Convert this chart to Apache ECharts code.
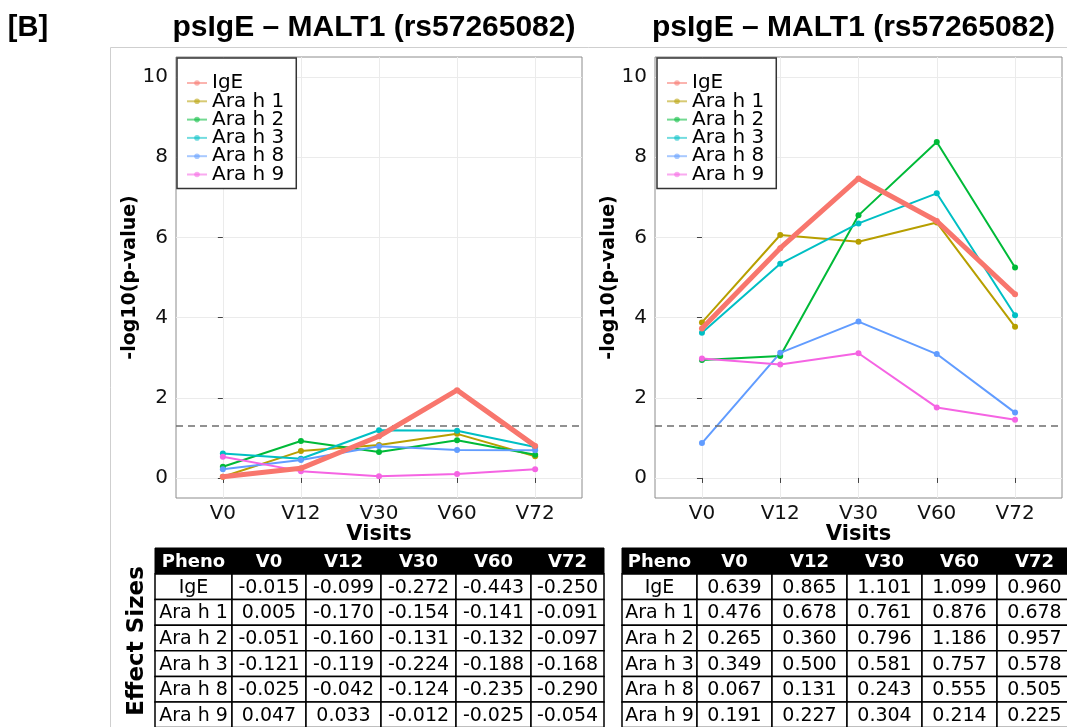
<!DOCTYPE html>
<html><head><meta charset="utf-8">
<script src="https://cdn.jsdelivr.net/npm/echarts@6/dist/echarts.min.js"></script>
<style>html,body{margin:0;padding:0;background:#fff}#c{width:1067px;height:727px}</style>
</head><body><div id="c"></div>
<script>
const visits = ['V0','V12','V30','V60','V72'];
const phenos = ['IgE','Ara h 1','Ara h 2','Ara h 3','Ara h 8','Ara h 9'];
const colors = ['#F8766D','#B79F00','#00BA38','#00BFC4','#619CFF','#F564E3'];
const panelTitle = 'psIgE – MALT1 (rs57265082)';
const panelTag = '[B]';
const yTicks = [0,2,4,6,8,10];
const xTicks = [0,1,2,3,4];
const threshold = 1.301;
const tableHeader = ['Pheno','V0','V12','V30','V60','V72'];

// left panel: -log10(p-value)
const leftIgE  = [0.03,0.24,1.04,2.19,0.80];
const leftAra1 = [0.03,0.67,0.82,1.10,0.54];
const leftAra2 = [0.28,0.92,0.65,0.94,0.58];
const leftAra3 = [0.61,0.48,1.19,1.18,0.77];
const leftAra8 = [0.22,0.45,0.79,0.70,0.69];
const leftAra9 = [0.53,0.17,0.04,0.10,0.22];

// right panel: -log10(p-value)
const rightIgE  = [3.73,5.73,7.47,6.41,4.58];
const rightAra1 = [3.88,6.06,5.89,6.37,3.77];
const rightAra2 = [2.94,3.04,6.55,8.38,5.25];
const rightAra3 = [3.62,5.34,6.35,7.10,4.06];
const rightAra8 = [0.87,3.12,3.90,3.09,1.63];
const rightAra9 = [2.98,2.83,3.11,1.76,1.45];

// effect sizes (left table)
const effLeftIgE  = [-0.015,-0.099,-0.272,-0.443,-0.250];
const effLeftAra1 = [0.005,-0.170,-0.154,-0.141,-0.091];
const effLeftAra2 = [-0.051,-0.160,-0.131,-0.132,-0.097];
const effLeftAra3 = [-0.121,-0.119,-0.224,-0.188,-0.168];
const effLeftAra8 = [-0.025,-0.042,-0.124,-0.235,-0.290];
const effLeftAra9 = [0.047,0.033,-0.012,-0.025,-0.054];

// effect sizes (right table)
const effRightIgE  = [0.639,0.865,1.101,1.099,0.960];
const effRightAra1 = [0.476,0.678,0.761,0.876,0.678];
const effRightAra2 = [0.265,0.360,0.796,1.186,0.957];
const effRightAra3 = [0.349,0.500,0.581,0.757,0.578];
const effRightAra8 = [0.067,0.131,0.243,0.555,0.505];
const effRightAra9 = [0.191,0.227,0.304,0.214,0.225];

const leftSets = [leftIgE,leftAra1,leftAra2,leftAra3,leftAra8,leftAra9];
const rightSets = [rightIgE,rightAra1,rightAra2,rightAra3,rightAra8,rightAra9];
const leftEff = [effLeftIgE,effLeftAra1,effLeftAra2,effLeftAra3,effLeftAra8,effLeftAra9];
const rightEff = [effRightIgE,effRightAra1,effRightAra2,effRightAra3,effRightAra8,effRightAra9];

const FONT = 'DejaVu Sans';
const grids = [
  {left:176, top:57, width:406, height:441},
  {left:655, top:57, width:407, height:441}
];

const chart = echarts.init(document.getElementById('c'), null, {renderer:'canvas'});

function mkSeries(gi, k, vals){
  const isIgE = k === 0;
  const s = {
    type:'line', name: phenos[k], xAxisIndex: gi, yAxisIndex: gi,
    data: vals.map((v,i)=>[i,v]),
    symbol:'circle', symbolSize: 6, showSymbol:true,
    lineStyle:{width: isIgE ? 5 : 2, color: colors[k]},
    itemStyle:{color: colors[k]},
    z: isIgE ? 6 : 3,
    emphasis:{disabled:true}, animation:false, silent:true
  };
  if (k === 1) {
    s.markLine = {
      silent:true, symbol:['none','none'], label:{show:false},
      lineStyle:{type:[7,5], color:'#6e6e6e', width:1.6},
      data:[{yAxis: threshold}], animation:false
    };
  }
  return s;
}

const series = [];
[leftSets, rightSets].forEach((sets, gi) => {
  sets.forEach((vals, k) => { series.push(mkSeries(gi, k, vals)); });
});

const xAxes = [0,1].map(i => ({
  type:'value', gridIndex:i, min:-0.6, max:4.6,
  name:'Visits', nameLocation:'middle', nameGap:26, nameMoveOverlap:false,
  nameTextStyle:{fontFamily:FONT, fontWeight:'bold', fontSize:21, color:'#000'},
  axisLine:{show:false},
  axisTick:{show:true, customValues:xTicks, length:5, lineStyle:{color:'#444'}},
  axisLabel:{customValues:xTicks, formatter:v=>visits[Math.round(v)], fontFamily:FONT, fontSize:20, color:'#111', margin:6},
  splitLine:{show:true, lineStyle:{color:'#ebebeb', width:1}}
}));
const yAxes = [0,1].map(i => ({
  type:'value', gridIndex:i, min:-0.5, max:10.5,
  name:'-log10(p-value)', nameLocation:'middle', nameGap:36, nameRotate:90, nameMoveOverlap:false,
  nameTextStyle:{fontFamily:FONT, fontWeight:'bold', fontSize:19, color:'#000'},
  axisLine:{show:false},
  axisTick:{show:true, customValues:yTicks, length:5, lineStyle:{color:'#444'}},
  axisLabel:{customValues:yTicks, fontFamily:FONT, fontSize:20, color:'#111', margin:8},
  splitLine:{show:true, lineStyle:{color:'#ebebeb', width:1}}
}));

const legends = [grids[0].left + 1, grids[1].left + 2].map(lx => ({
  left: lx, top: 58, orient:'vertical', data: phenos,
  backgroundColor:'#fff', borderColor:'#333', borderWidth:1.5,
  padding:[15,12,4,9], itemGap:-1.7, itemWidth:20, itemHeight:7,
  textStyle:{fontFamily:FONT, fontSize:20, color:'#000'},
  itemStyle:{opacity:0.55}, lineStyle:{opacity:0.55},
  selectedMode:false
}));

// graphic elements: frame, titles, tables
const graphics = [];
graphics.push({type:'line', shape:{x1:110.5,y1:47.5,x2:1067,y2:47.5}, style:{stroke:'#cfcfcf', lineWidth:1}, silent:true, z:-10});
graphics.push({type:'line', shape:{x1:110.5,y1:47.5,x2:110.5,y2:727}, style:{stroke:'#cfcfcf', lineWidth:1}, silent:true, z:-10});
graphics.push({type:'text', x:28, y:28, style:{text:panelTag, fontFamily:'Liberation Sans', fontWeight:'bold', fontSize:29, fill:'#000', align:'center', verticalAlign:'middle'}, silent:true});
grids.forEach(g => {
  graphics.push({type:'text', x: g.left + g.width/2 - 5, y:28, style:{text:panelTitle, fontFamily:'Liberation Sans', fontWeight:'bold', fontSize:30, fill:'#000', align:'center', verticalAlign:'middle'}, silent:true});
});
graphics.push({type:'text', x:137, y:641, rotation:Math.PI/2, style:{text:'Effect Sizes', fontFamily:FONT, fontWeight:'bold', fontSize:23, fill:'#000', align:'center', verticalAlign:'middle'}, silent:true});

function fmt(v){ return v.toFixed(3); }
function buildTable(x0, colW, effSets){
  const top = 548, headH = 26, rowH = 25.6;
  const colX = [x0];
  colW.forEach(w => colX.push(colX[colX.length-1] + w));
  const totalW = colX[colX.length-1] - x0;
  graphics.push({type:'rect', shape:{x:x0, y:top, width:totalW, height:headH}, style:{fill:'#000', stroke:'#000', lineWidth:1}, silent:true});
  tableHeader.forEach((h, c) => {
    graphics.push({type:'text', x:(colX[c]+colX[c+1])/2, y: top + headH/2 + 1, style:{text:h, fontFamily:FONT, fontWeight:'bold', fontSize:18, fill:'#fff', align:'center', verticalAlign:'middle'}, silent:true});
  });
  effSets.forEach((vals, r) => {
    const y = top + headH + r*rowH;
    const cells = [phenos[r]].concat(vals.map(fmt));
    cells.forEach((t, c) => {
      graphics.push({type:'rect', shape:{x:colX[c], y:y, width:colX[c+1]-colX[c], height:rowH}, style:{fill:'#fff', stroke:'#000', lineWidth:1.5}, silent:true});
      graphics.push({type:'text', x:(colX[c]+colX[c+1])/2, y: y + rowH/2 + 1, style:{text:t, fontFamily:FONT, fontSize:19, fill:'#000', align:'center', verticalAlign:'middle'}, silent:true});
    });
  });
}
buildTable(155, [77,74,75,75,75,73], leftEff);
buildTable(622, [75,75,75,75,75,75], rightEff);

chart.setOption({
  animation:false,
  backgroundColor:'#fff',
  grid: grids.map(g => Object.assign({show:true, borderColor:'#8c8c8c', borderWidth:1, backgroundColor:'transparent', containLabel:false}, g)),
  xAxis: xAxes,
  yAxis: yAxes,
  legend: legends,
  series: series,
  graphic: graphics
});
</script>
</body></html>
